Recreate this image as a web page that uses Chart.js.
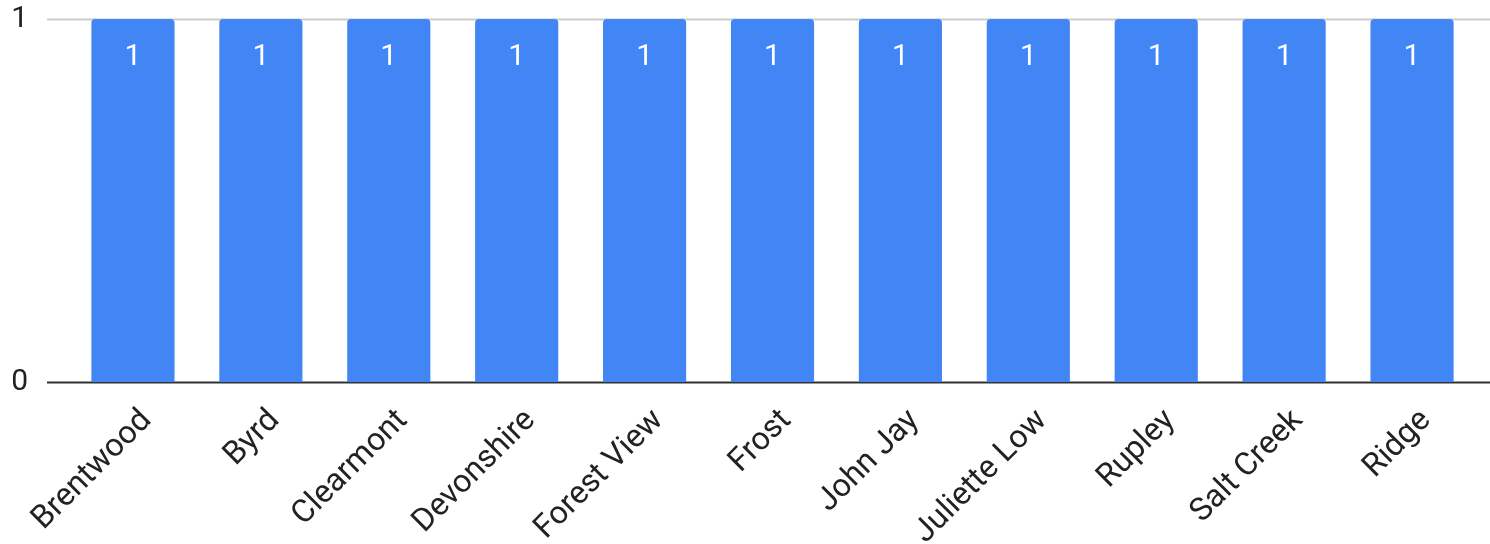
<!DOCTYPE html>
<html>
<head>
<meta charset="utf-8">
<script src="https://cdn.jsdelivr.net/npm/chart.js@4/dist/chart.umd.min.js"></script>
<style>
  html, body { margin: 0; padding: 0; background: #fff; }
  #wrap { width: 1490px; height: 544px; position: relative; }
</style>
</head>
<body>
<div id="wrap"><canvas id="c"></canvas></div>
<script>
const categories = ["Brentwood", "Byrd", "Clearmont", "Devonshire", "Forest View", "Frost", "John Jay", "Juliette Low", "Rupley", "Salt Creek", "Ridge"];
const values = [1, 1, 1, 1, 1, 1, 1, 1, 1, 1, 1];
const yTicks = [0, 1];

const FONT = "Roboto, 'Noto Sans', sans-serif";

const gridPlugin = {
  id: 'extGrid',
  beforeDatasetsDraw(chart) {
    const ctx = chart.ctx;
    const y = chart.scales.y;
    ctx.save();
    yTicks.forEach(v => {
      const py = Math.round(y.getPixelForValue(v)) + 0.5;
      ctx.beginPath();
      ctx.strokeStyle = v === 0 ? '#333333' : '#cccccc';
      ctx.lineWidth = 2;
      ctx.moveTo(47, py);
      ctx.lineTo(chart.width, py);
      ctx.stroke();
    });
    ctx.restore();
  },
  afterDatasetsDraw(chart) {
    const ctx = chart.ctx;
    const meta = chart.getDatasetMeta(0);
    ctx.save();
    ctx.fillStyle = '#ffffff';
    ctx.font = "30px " + FONT;
    ctx.textAlign = 'center';
    ctx.textBaseline = 'alphabetic';
    meta.data.forEach((el, i) => {
      ctx.fillText(String(values[i]), el.x, el.y + 46);
    });
    ctx.restore();
  }
};

new Chart(document.getElementById('c'), {
  type: 'bar',
  data: {
    labels: categories,
    datasets: [{
      data: values,
      backgroundColor: '#4285F4',
      borderRadius: 4,
      borderSkipped: 'start',
      categoryPercentage: 1,
      barPercentage: 0.65
    }]
  },
  options: {
    responsive: true,
    maintainAspectRatio: false,
    animation: false,
    layout: { padding: { top: 19, right: 14, left: 0, bottom: 0 } },
    plugins: { legend: { display: false }, tooltip: { enabled: false } },
    scales: {
      x: {
        grid: { display: false, drawTicks: false },
        border: { display: false },
        ticks: {
          autoSkip: false,
          minRotation: 45,
          maxRotation: 45,
          padding: 20,
          labelOffset: 14,
          color: '#222222',
          font: { family: FONT, size: 32 }
        },
        afterFit(s) { s.height = 162; s.paddingLeft = 0; s.paddingRight = 0; }
      },
      y: {
        min: 0,
        max: 1,
        grid: { display: false, drawTicks: false },
        border: { display: false },
        ticks: {
          stepSize: 1,
          padding: 41,
          color: '#222222',
          font: { family: FONT, size: 30 }
        },
        afterBuildTicks(s) { s.ticks = yTicks.map(v => ({ value: v })); },
        afterFit(s) { s.width = 69; s.paddingTop = 0; s.paddingBottom = 0; }
      }
    }
  },
  plugins: [gridPlugin]
});
</script>
</body>
</html>
